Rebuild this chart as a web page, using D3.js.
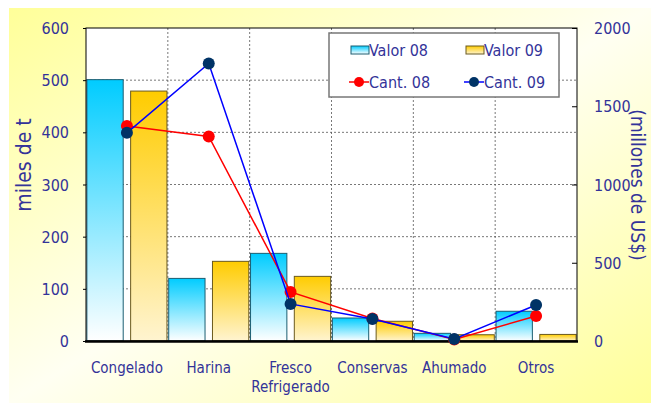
<!DOCTYPE html>
<html>
<head>
<meta charset="utf-8">
<script src="https://cdn.jsdelivr.net/npm/d3@7"></script>
<style>
  body { margin: 0; background: #fff; }
  text { font-family: "DejaVu Sans Condensed", "Liberation Sans Narrow", "Arial Narrow", sans-serif; font-stretch: condensed; fill: #333399; }
</style>
</head>
<body>
<div id="chart"></div>
<script>
const categories = ["Congelado", "Harina", "Fresco\nRefrigerado", "Conservas", "Ahumado", "Otros"];
const valor08 = [1670, 400, 560, 147, 49, 190];   // millones de US$
const valor09 = [1597, 509, 413, 126, 40, 42];
const cant08 = [412, 392, 94, 43, 3, 48];         // miles de t
const cant09 = [399, 532, 71, 42, 4, 69];
const leftTicks = [0, 100, 200, 300, 400, 500, 600];
const rightTicks = [0, 500, 1000, 1500, 2000];

const W = 651, H = 403;
const m = {left: 86, right: 74, top: 28, bottom: 62};

const svg = d3.select("#chart").append("svg")
  .attr("width", W)
  .attr("height", H);

const defs = svg.append("defs");
const bg = defs.append("linearGradient").attr("id", "bg")
  .attr("x1", "0%").attr("y1", "0%").attr("x2", "100%").attr("y2", "100%");
bg.append("stop").attr("offset", "0%").attr("stop-color", "#ffff99");
bg.append("stop").attr("offset", "50%").attr("stop-color", "#fffff2");
bg.append("stop").attr("offset", "100%").attr("stop-color", "#ffff99");

const gBlue = defs.append("linearGradient").attr("id", "gblue")
  .attr("x1", 0).attr("y1", 0).attr("x2", 0).attr("y2", 1);
gBlue.append("stop").attr("offset", "0%").attr("stop-color", "#00ccff");
gBlue.append("stop").attr("offset", "100%").attr("stop-color", "#ffffff");

const gYel = defs.append("linearGradient").attr("id", "gyel")
  .attr("x1", 0).attr("y1", 0).attr("x2", 0).attr("y2", 1);
gYel.append("stop").attr("offset", "0%").attr("stop-color", "#ffcc00");
gYel.append("stop").attr("offset", "100%").attr("stop-color", "#fff4d0");

svg.append("rect")
  .attr("x", 9).attr("y", 8)
  .attr("width", W - 9).attr("height", H - 8)
  .attr("fill", "url(#bg)");

const x = d3.scaleBand()
  .domain(categories)
  .range([m.left, W - m.right]);
const xs = d3.scaleBand()
  .domain(["v08", "v09"])
  .range([0, x.bandwidth()])
  .paddingInner(0.17)
  .paddingOuter(0.02);
const yL = d3.scaleLinear().domain([0, 600]).range([H - m.bottom, m.top]);
const yR = d3.scaleLinear().domain([0, 2000]).range([H - m.bottom, m.top]);

// plot area
svg.append("rect")
  .attr("x", m.left).attr("y", m.top)
  .attr("width", W - m.left - m.right).attr("height", H - m.top - m.bottom)
  .attr("fill", "#fff");

// grid
svg.append("g")
  .selectAll("line")
  .data(leftTicks.slice(1, -1))
  .join("line")
  .attr("x1", m.left).attr("x2", W - m.right)
  .attr("y1", d => yL(d)).attr("y2", d => yL(d))
  .attr("stroke", "#555")
  .attr("stroke-width", 0.8)
  .style("stroke-dasharray", ("2, 2"));

svg.append("g")
  .selectAll("line")
  .data(categories.slice(1))
  .join("line")
  .attr("x1", d => x(d)).attr("x2", d => x(d))
  .attr("y1", m.top).attr("y2", H - m.bottom)
  .attr("stroke", "#555")
  .attr("stroke-width", 0.8)
  .style("stroke-dasharray", ("2, 2"));

// bars
const groups = svg.append("g").selectAll("g")
  .data(categories)
  .join("g")
  .attr("transform", d => `translate(${x(d)},0)`);

groups.append("rect")
  .attr("x", xs("v08"))
  .attr("width", xs.bandwidth())
  .attr("y", (d, i) => yR(valor08[i]))
  .attr("height", (d, i) => yR(0) - yR(valor08[i]))
  .attr("fill", "url(#gblue)")
  .attr("stroke", "#1b5e72")
  .attr("stroke-width", 1);

groups.append("rect")
  .attr("x", xs("v09"))
  .attr("width", xs.bandwidth())
  .attr("y", (d, i) => yR(valor09[i]))
  .attr("height", (d, i) => yR(0) - yR(valor09[i]))
  .attr("fill", "url(#gyel)")
  .attr("stroke", "#6b5a1e")
  .attr("stroke-width", 1);

// frame
svg.append("rect")
  .attr("x", m.left).attr("y", m.top)
  .attr("width", W - m.left - m.right).attr("height", H - m.top - m.bottom)
  .attr("fill", "none")
  .attr("stroke", "#000")
  .attr("stroke-width", 1);
svg.append("line")
  .attr("x1", m.left - 1).attr("x2", W - m.right + 1)
  .attr("y1", yL(0) + 0.5).attr("y2", yL(0) + 0.5)
  .attr("stroke", "#000").attr("stroke-width", 2.5);

// lines
const cx = d => x(d) + x.bandwidth() / 2;
const line = d3.line().x(d => cx(d[0])).y(d => yL(d[1]));

const series = [
  {vals: cant08, line: "#ff0000", dot: "#ff0000"},
  {vals: cant09, line: "#0000ff", dot: "#003366"}
];
series.forEach(s => {
  const pts = categories.map((c, i) => [c, s.vals[i]]);
  svg.append("path")
    .attr("d", line(pts))
    .attr("fill", "none")
    .attr("stroke", s.line)
    .attr("stroke-width", 1.5);
  svg.append("g").selectAll("circle")
    .data(pts)
    .join("circle")
    .attr("cx", d => cx(d[0]))
    .attr("cy", d => yL(d[1]))
    .attr("r", 6)
    .attr("fill", s.dot);
});

// left axis
const axL = svg.append("g")
  .attr("transform", `translate(${m.left},0)`)
  .call(d3.axisLeft(yL).tickValues(leftTicks).tickSize(3).tickPadding(14));
axL.select(".domain").remove();
axL.selectAll("line").attr("stroke", "#000");
axL.selectAll("text").style("font-size", "16px").attr("dy", "0.35em");

// right axis
const axR = svg.append("g")
  .attr("transform", `translate(${W - m.right},0)`)
  .call(d3.axisRight(yR).tickValues(rightTicks).tickFormat(d3.format("d")).tickSize(-5).tickPadding(17));
axR.select(".domain").remove();
axR.selectAll("line").attr("stroke", "#000");
axR.selectAll("text").style("font-size", "16px").attr("dy", "0.35em");

// x labels
svg.append("g").selectAll("text")
  .data(categories)
  .join("text")
  .attr("text-anchor", "middle")
  .style("font-size", "15px")
  .each(function(d) {
    const t = d3.select(this);
    d.split("\n").forEach((ln, k) => {
      t.append("tspan")
        .attr("x", cx(d))
        .attr("y", 373 + k * 19)
        .text(ln);
    });
  });

// axis titles
svg.append("text")
  .attr("transform", "translate(31,165) rotate(-90)")
  .attr("text-anchor", "middle")
  .style("font-size", "21px")
  .text("miles de t");

svg.append("text")
  .attr("transform", "translate(631,185) rotate(90)")
  .attr("text-anchor", "middle")
  .style("font-size", "19px")
  .text("(millones de US$)");

// legend
const leg = svg.append("g");
leg.append("rect")
  .attr("x", 329).attr("y", 33)
  .attr("width", 230).attr("height", 64)
  .attr("fill", "#fff")
  .attr("stroke", "#777")
  .attr("stroke-width", 1.5);

const legItems = [
  {label: "Valor 08", kind: "bar", fill: "url(#gblue)", stroke: "#1b5e72", col: 0, row: 0},
  {label: "Valor 09", kind: "bar", fill: "url(#gyel)", stroke: "#6b5a1e", col: 1, row: 0},
  {label: "Cant. 08", kind: "line", line: "#ff0000", dot: "#ff0000", col: 0, row: 1},
  {label: "Cant. 09", kind: "line", line: "#0000ff", dot: "#003366", col: 1, row: 1}
];
legItems.forEach(it => {
  const lx = 351 + it.col * 115, ly = 50 + it.row * 32;
  if (it.kind === "bar") {
    leg.append("rect")
      .attr("x", lx).attr("y", ly - 4)
      .attr("width", 18).attr("height", 8)
      .attr("fill", it.fill).attr("stroke", it.stroke);
  } else {
    leg.append("line")
      .attr("x1", lx - 2).attr("x2", lx + 18)
      .attr("y1", ly).attr("y2", ly)
      .attr("stroke", it.line).attr("stroke-width", 1.5);
    leg.append("circle")
      .attr("cx", lx + 8).attr("cy", ly).attr("r", 5)
      .attr("fill", it.dot);
  }
  leg.append("text")
    .attr("x", lx + 18).attr("y", ly)
    .attr("dy", "0.35em")
    .style("font-size", "16px")
    .text(it.label);
});
</script>
</body>
</html>
